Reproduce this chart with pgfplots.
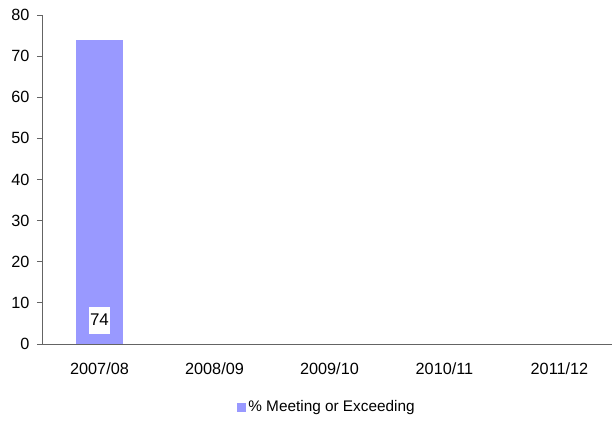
\documentclass[border=0pt]{standalone}
\usepackage{fontspec}
\setmainfont{Liberation Sans}
\usepackage{pgfplots}
\pgfplotsset{compat=1.18}
\definecolor{barblue}{RGB}{153,153,255}
\definecolor{axgray}{RGB}{100,100,100}
\begin{document}
\begin{tikzpicture}
\useasboundingbox (0,0) rectangle (613bp,421bp);
\begin{axis}[
  at={(42bp,77bp)}, anchor=south west,
  scale only axis, width=570bp, height=329bp,
  xmin=-0.5, xmax=4.457, ymin=0, ymax=80,
  axis x line=bottom, axis y line=left,
  axis line style={-, draw=axgray, line width=0.8bp},
  xtick={0,1,2,3,4},
  xticklabels={2007/08,2008/09,2009/10,2010/11,2011/12},
  xtick style={draw=none},
  extra x ticks={-0.5,0.5,1.5,2.5,3.5},
  extra x tick labels={},
  extra x tick style={tick style={draw=axgray, line width=0.8bp}},
  ytick={0,10,...,80},
  ytick style={draw=axgray, line width=0.8bp},
  tick align=outside, major tick length=5bp,
  /pgf/number format/assume math mode=true,
  tick label style={font=\fontsize{16.3}{19}\selectfont},
  xticklabel style={yshift=-10bp},
  yticklabel style={xshift=-4bp},
  legend style={at={(0.5,-0.1915)}, anchor=center, draw=none,
    font=\fontsize{15.4}{18}\selectfont, inner sep=0pt},
  legend image code/.code={\fill[barblue] (0bp,-4.5bp) rectangle (9bp,4.5bp);},
]
\addplot[ybar, bar width=47bp, fill=barblue, draw=none] coordinates {(0,74)};
\addlegendentry{\% Meeting or Exceeding}
\node[fill=white, inner xsep=1.5bp, inner ysep=6.3bp, text height=12.3bp, text depth=2bp,
  font=\fontsize{17}{19}\selectfont] at (axis cs:0,5.70) {74};
\end{axis}
\end{tikzpicture}
\end{document}
